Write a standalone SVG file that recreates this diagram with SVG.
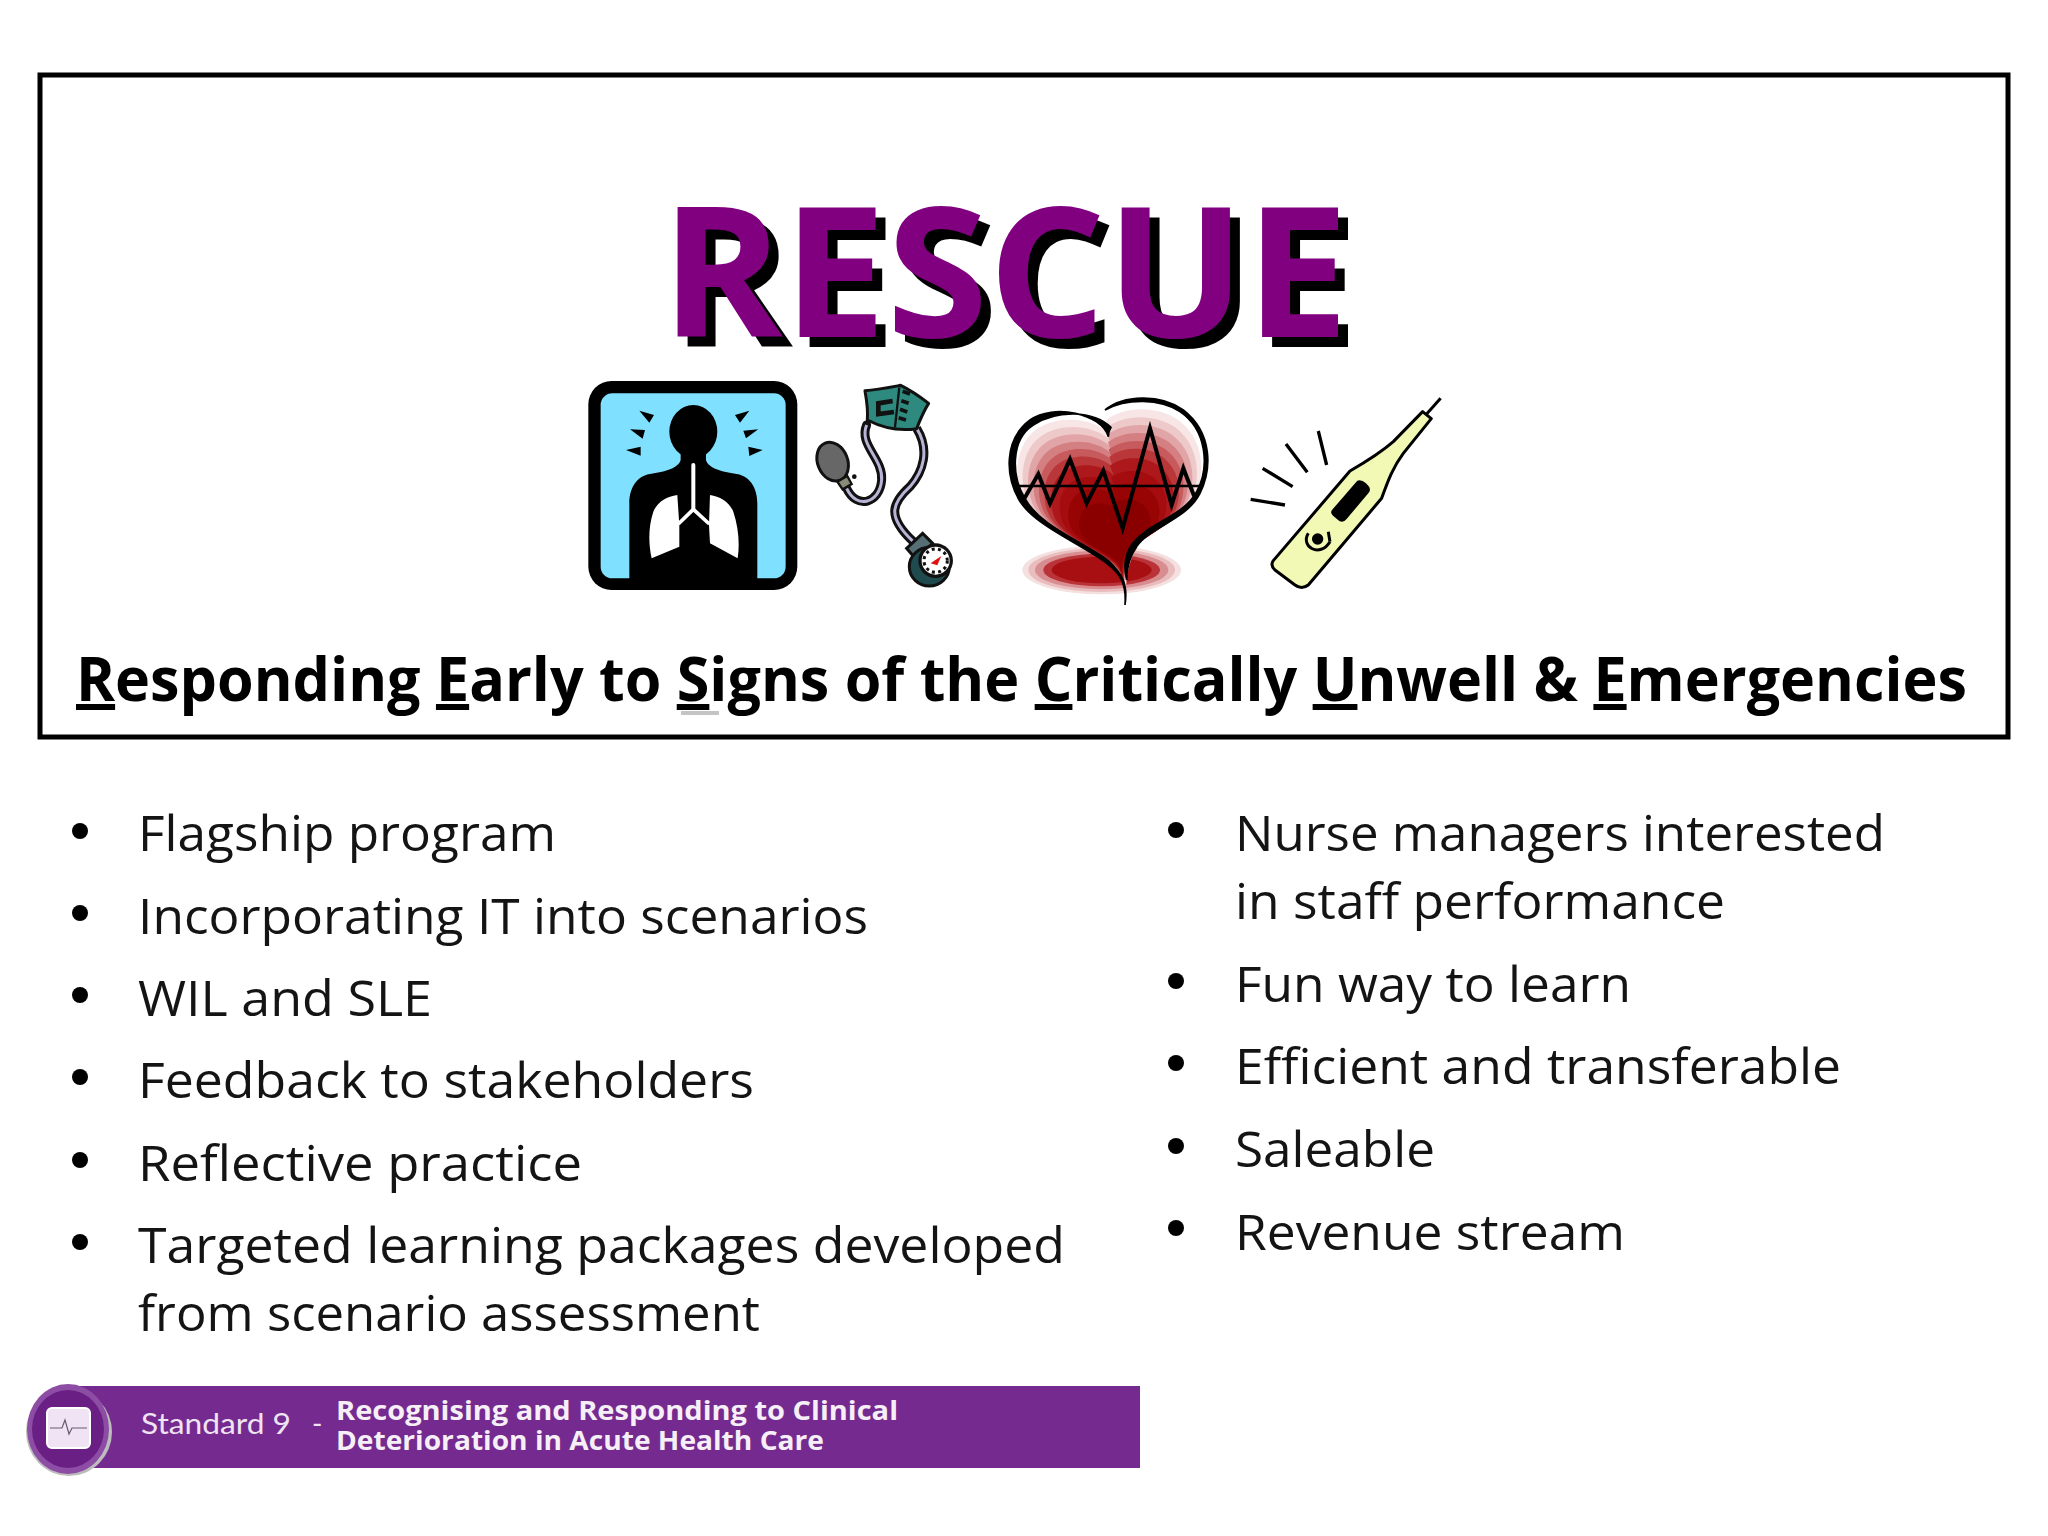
<svg xmlns="http://www.w3.org/2000/svg" width="2048" height="1536" viewBox="0 0 2048 1536">
<style>
.b{font-family:"Open Sans","Noto Sans",sans-serif;font-size:50px;fill:#141414}
.t{font-family:"Open Sans","Noto Sans",sans-serif;font-weight:700;font-size:182px}
.s{font-family:"Open Sans","Noto Sans",sans-serif;font-weight:700;font-size:60px;fill:#000}
.w{font-family:"Open Sans","Noto Sans",sans-serif;font-weight:700;font-size:27px;fill:#f6eff8}
</style>
<defs>
<path id="hb" d="M395 170C340 110 220 100 150 150C80 200 70 320 120 395C170 470 300 520 380 580C420 610 440 640 435 705C440 640 435 600 470 530C510 470 620 450 660 370C700 290 690 180 610 120C540 70 430 75 375 120Z"/>
</defs>
<rect width="2048" height="1536" fill="#fff"/>
<rect id="frame" x="40" y="75" width="1968" height="662" fill="none" stroke="#000" stroke-width="5"/>

<g id="title">
<text class="t" x="671" y="347" textLength="688" lengthAdjust="spacingAndGlyphs" fill="#000">RESCUE</text>
<text class="t" x="661" y="337" textLength="688" lengthAdjust="spacingAndGlyphs" fill="#800080">RESCUE</text>
</g>

<g id="xray" transform="translate(570 370) scale(.3333)">
<rect x="55" y="33" width="627" height="627" rx="70" fill="#000"/>
<rect x="92" y="70" width="555" height="555" rx="35" fill="#80e0ff"/>
<ellipse cx="370" cy="185" rx="72" ry="80"/>
<path d="M332 240L332 270C325 295 285 305 240 312C195 320 178 360 178 400L178 630L562 630L562 400C562 360 545 320 500 312C455 305 415 295 408 270L408 240Z"/>
<path d="M322 375L328 465L328 530L245 565C235 520 235 470 250 425C262 395 290 380 322 375ZM420 375L417 465L420 520L503 565C510 520 505 470 490 425C478 395 450 380 420 375Z" fill="#fff"/>
<path d="M370 285L370 415" fill="none" stroke="#fff" stroke-width="12" stroke-linecap="round"/>
<path d="M325 462L370 418L418 462" fill="none" stroke="#fff" stroke-width="11"/>
<path d="M208 122L252 135L238 158ZM180 178L225 180L218 206ZM168 240L212 230L212 257ZM538 122L495 135L510 158ZM565 178L520 182L528 205ZM578 240L535 230L538 258Z"/>
</g>

<g id="cuff" transform="translate(570 370) scale(.3333)">
<path d="M890 165C865 225 940 265 935 330C930 400 860 420 830 355" fill="none" stroke="#111" stroke-width="27" stroke-linecap="round"/>
<path d="M890 165C865 225 940 265 935 330C930 400 860 420 830 355" fill="none" stroke="#b9b3d6" stroke-width="9"/>
<path d="M1040 175C1080 240 1060 305 1020 350C965 400 950 440 1030 515" fill="none" stroke="#111" stroke-width="27"/>
<path d="M1040 175C1080 240 1060 305 1020 350C965 400 950 440 1030 515" fill="none" stroke="#b9b3d6" stroke-width="9"/>
<path d="M885 62C920 60 960 52 992 46C1025 62 1050 80 1076 100C1060 125 1050 150 1040 176C990 184 935 172 892 150C895 120 890 90 885 62Z" fill="#2e8a7e" stroke="#111" stroke-width="9" stroke-linejoin="round"/>
<path d="M988 52L975 172" stroke="#111" stroke-width="7"/>
<path d="M968 93L925 100L925 132L972 126" fill="none" stroke="#111" stroke-width="14"/>
<path d="M998 64L1020 72M994 92L1016 100M990 118L1012 126M986 143L1008 150" stroke="#111" stroke-width="11"/>
<ellipse cx="788" cy="275" rx="45" ry="60" transform="rotate(-22 788 275)" fill="#676767" stroke="#111" stroke-width="9"/>
<path d="M802 335L832 318L845 342L818 358Z" fill="#8a8a78" stroke="#111" stroke-width="7"/>
<circle cx="853" cy="320" r="7" fill="#111"/>
<path d="M1010 535L1058 490L1088 520L1040 570Z" fill="#556f75" stroke="#111" stroke-width="9"/>
<ellipse cx="1078" cy="590" rx="60" ry="58" fill="#1f4a4e" stroke="#111" stroke-width="9"/>
<circle cx="1097" cy="572" r="52" fill="#111"/>
<circle cx="1097" cy="572" r="42" fill="#fff"/>
<circle cx="1097" cy="572" r="35" fill="none" stroke="#111" stroke-width="9" stroke-dasharray="9 10"/>
<path d="M1114 558L1082 580L1102 586Z" fill="#e01010"/>
</g>

<g id="heart" transform="translate(980 370) scale(.3333)">
<ellipse cx="365" cy="600" rx="238" ry="73" fill="#f5e0e0"/>
<ellipse cx="365" cy="600" rx="220" ry="66" fill="#e9bcbe"/>
<ellipse cx="365" cy="600" rx="200" ry="58" fill="#d88e90"/>
<ellipse cx="365" cy="600" rx="175" ry="49" fill="#b93338"/>
<ellipse cx="365" cy="600" rx="150" ry="40" fill="#a80f12"/>
<use href="#hb" fill="#fff"/>
<use href="#hb" fill="#f8e6e6" transform="translate(415 560) scale(.93) translate(-415 -560)"/>
<use href="#hb" fill="#eec9ca" transform="translate(415 560) scale(.88) translate(-415 -560)"/>
<use href="#hb" fill="#e2a5a7" transform="translate(415 560) scale(.83) translate(-415 -560)"/>
<use href="#hb" fill="#d47f82" transform="translate(415 560) scale(.78) translate(-415 -560)"/>
<use href="#hb" fill="#c65a5d" transform="translate(415 560) scale(.73) translate(-415 -560)"/>
<use href="#hb" fill="#b93639" transform="translate(415 560) scale(.68) translate(-415 -560)"/>
<use href="#hb" fill="#ad181c" transform="translate(415 560) scale(.62) translate(-415 -560)"/>
<use href="#hb" fill="#a40c0f" transform="translate(415 560) scale(.54) translate(-415 -560)"/>
<use href="#hb" fill="#980404" transform="translate(415 560) scale(.46) translate(-415 -560)"/>
<use href="#hb" fill="#8a0000" transform="translate(415 560) scale(.36) translate(-415 -560)"/>
<path d="M393 172C385 185 385 195 385 200C365 130 220 100 150 150C70 210 75 320 120 395C170 470 300 520 380 580C420 610 440 640 435 705C445 640 425 610 385 572C310 515 180 470 135 385C95 320 90 210 160 165C230 120 340 120 393 172Z" fill="#000" stroke="#000" stroke-width="5"/>
<path d="M375 120C430 75 540 70 610 120C700 190 695 300 660 370C620 450 510 470 470 530C445 565 440 600 440 630C430 590 435 550 458 520C510 455 610 440 650 365C690 290 680 180 600 125C540 85 440 85 375 120Z" fill="#000" stroke="#000" stroke-width="5"/>
<path d="M112 348L665 348" stroke="#000" stroke-width="7"/>
<path d="M125 400L175 312L210 400L270 268L320 400L370 302L428 475L510 175L575 405L610 295L645 385" fill="none" stroke="#000" stroke-width="12"/>
</g>

<g id="thermometer" transform="translate(980 370) scale(.3333)">
<path d="M1340 132L1382 85" stroke="#000" stroke-width="9"/>
<path d="M880 572L1110 303C1150 280 1200 250 1240 215L1328 125L1354 146L1270 250C1240 290 1225 330 1205 385L985 645Q965 660 945 645L885 600Q870 585 880 572Z" fill="#f2f9b4" stroke="#000" stroke-width="9" stroke-linejoin="round"/>
<path d="M1132 332Q1145 328 1158 340L1165 347Q1175 358 1165 370L1100 447Q1090 460 1078 453L1060 438Q1048 428 1058 418Z"/>
<circle cx="1013" cy="507" r="17"/>
<path d="M985 490C960 530 1020 565 1050 515M1045 485L1050 515" fill="none" stroke="#000" stroke-width="9"/>
<path d="M812 388L915 405M848 295L938 350M918 222L982 307M1015 183L1040 285" stroke="#000" stroke-width="10"/>
</g>

<rect id="s-shadow" x="681" y="711" width="38" height="4" fill="#c4c4c4"/>
<text id="subtitle" class="s" x="76" y="701" textLength="1891" lengthAdjust="spacingAndGlyphs"><tspan text-decoration="underline">R</tspan>esponding <tspan text-decoration="underline">E</tspan>arly to <tspan text-decoration="underline">S</tspan>igns of the <tspan text-decoration="underline">C</tspan>ritically <tspan text-decoration="underline">U</tspan>nwell &amp; <tspan text-decoration="underline">E</tspan>mergencies</text>

<g id="left-list" fill="#000">
<circle cx="80" cy="831" r="8"/><circle cx="80" cy="913" r="8"/><circle cx="80" cy="995" r="8"/><circle cx="80" cy="1077" r="8"/><circle cx="80" cy="1160" r="8"/><circle cx="80" cy="1242" r="8"/>
<text class="b" x="138" y="851" textLength="418" lengthAdjust="spacingAndGlyphs">Flagship program</text>
<text class="b" x="138" y="934" textLength="730" lengthAdjust="spacingAndGlyphs">Incorporating IT into scenarios</text>
<text class="b" x="138" y="1016" textLength="294" lengthAdjust="spacingAndGlyphs">WIL and SLE</text>
<text class="b" x="138" y="1098" textLength="616" lengthAdjust="spacingAndGlyphs">Feedback to stakeholders</text>
<text class="b" x="138" y="1181" textLength="444" lengthAdjust="spacingAndGlyphs">Reflective practice</text>
<text class="b" x="138" y="1263" textLength="927" lengthAdjust="spacingAndGlyphs">Targeted learning packages developed</text>
<text class="b" x="138" y="1331" textLength="622" lengthAdjust="spacingAndGlyphs">from scenario assessment</text>
</g>

<g id="right-list" fill="#000">
<circle cx="1176" cy="830" r="8"/><circle cx="1176" cy="981" r="8"/><circle cx="1176" cy="1063" r="8"/><circle cx="1176" cy="1146" r="8"/><circle cx="1176" cy="1228" r="8"/>
<text class="b" x="1235" y="851" textLength="650" lengthAdjust="spacingAndGlyphs">Nurse managers interested</text>
<text class="b" x="1235" y="919" textLength="490" lengthAdjust="spacingAndGlyphs">in staff performance</text>
<text class="b" x="1235" y="1002" textLength="396" lengthAdjust="spacingAndGlyphs">Fun way to learn</text>
<text class="b" x="1235" y="1084" textLength="606" lengthAdjust="spacingAndGlyphs">Efficient and transferable</text>
<text class="b" x="1235" y="1167" textLength="200" lengthAdjust="spacingAndGlyphs">Saleable</text>
<text class="b" x="1235" y="1250" textLength="390" lengthAdjust="spacingAndGlyphs">Revenue stream</text>
</g>

<g id="banner">
<rect x="68" y="1386" width="1072" height="82" fill="#752a8f"/>
<ellipse cx="69" cy="1432" rx="43" ry="44" fill="#bdbdbd"/>
<ellipse cx="68" cy="1429" rx="41" ry="45" fill="#8d4da4"/>
<ellipse cx="68" cy="1429" rx="36" ry="39" fill="#6a1f85"/>
<rect x="47" y="1408" width="43" height="40" rx="5" fill="#f0e4f4" stroke="#fff" stroke-width="2"/>
<path d="M50 1428L62 1428L65 1420L69 1434L72 1428L87 1428" fill="none" stroke="#6a5a70" stroke-width="1.2"/>
<text x="141" y="1434" textLength="150" lengthAdjust="spacingAndGlyphs" font-family="Lato,'Open Sans',sans-serif" font-weight="400" font-size="29" fill="#efe4f2">Standard 9</text>
<text x="312" y="1434" font-family="Lato,'Open Sans',sans-serif" font-size="28" fill="#efe4f2">-</text>
<text class="w" x="336" y="1420" textLength="562" lengthAdjust="spacingAndGlyphs">Recognising and Responding to Clinical</text>
<text class="w" x="336" y="1450" textLength="488" lengthAdjust="spacingAndGlyphs">Deterioration in Acute Health Care</text>
</g>
</svg>
